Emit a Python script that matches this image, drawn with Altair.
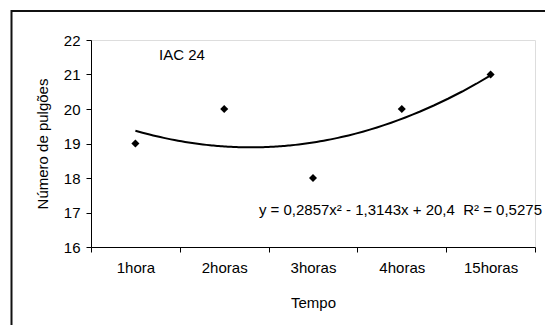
import altair as alt
import pandas as pd

# Aphid counts per exposure time (cultivar IAC 24)
tempos = ["1hora", "2horas", "3horas", "4horas", "15horas"]
indice = [1, 2, 3, 4, 5]
pulgoes = [19, 20, 18, 20, 21]

titulo_serie = "IAC 24"
equacao = "y = 0,2857x² - 1,3143x + 20,4\u00a0\u00a0R² = 0,5275"

FONT = "Liberation Sans"
FS = 15

df = pd.DataFrame({"tempo": tempos, "idx": indice, "pulgoes": pulgoes})

y_enc = alt.Y(
    "pulgoes:Q",
    scale=alt.Scale(domain=[16, 22], nice=False, zero=False),
    axis=alt.Axis(
        title="Número de pulgões",
        values=[16, 17, 18, 19, 20, 21, 22],
        tickCount=7,
        labelOverlap=False,
        grid=False,
        tickSize=5,
        labelPadding=6,
        titlePadding=13,
        domainColor="black",
        tickColor="black",
        labelColor="black",
        titleColor="black",
        labelFontSize=FS,
        titleFontSize=FS,
        titleFontWeight="normal",
        labelFont=FONT,
        titleFont=FONT,
    ),
)

pontos = alt.Chart(df).mark_point(
    shape="diamond", filled=True, color="black", size=65, opacity=1
).encode(
    x=alt.X(
        "tempo:N",
        sort=tempos,
        scale=alt.Scale(paddingInner=0, paddingOuter=0),
        axis=alt.Axis(
            title="Tempo",
            labelAngle=0,
            labelOverlap=False,
            tickBand="extent",
            tickSize=5,
            labelPadding=8,
            titlePadding=20,
            domainColor="black",
            tickColor="black",
            labelColor="black",
            titleColor="black",
            labelFontSize=FS,
            titleFontSize=FS,
            titleFontWeight="normal",
            labelFont=FONT,
            titleFont=FONT,
        ),
    ),
    y=y_enc,
)

# Second-order polynomial trendline fitted on the category index
tendencia = alt.Chart(df).transform_regression(
    "idx", "pulgoes", method="poly", order=2, extent=[1, 5]
).mark_line(color="black", strokeWidth=2).encode(
    x=alt.X("idx:Q", scale=alt.Scale(domain=[0.5, 5.5], nice=False, zero=False), axis=None),
    y=y_enc,
)

rotulo = alt.Chart(pd.DataFrame({"t": [titulo_serie]})).mark_text(
    font=FONT, fontSize=FS, color="black", align="center", baseline="middle"
).encode(x=alt.value(91), y=alt.value(15), text="t:N")

eq = alt.Chart(pd.DataFrame({"t": [equacao]})).mark_text(
    font=FONT, fontSize=FS, color="black", align="right", baseline="middle"
).encode(x=alt.value(451), y=alt.value(170), text="t:N")

# Outer frame (top and left edges)
borda_topo = alt.Chart(pd.DataFrame({"k": [0]})).mark_rule(color="#111", strokeWidth=2).encode(
    x=alt.value(-80), x2=alt.value(460), y=alt.value(-29)
)
borda_esq = alt.Chart(pd.DataFrame({"k": [0]})).mark_rule(color="#111", strokeWidth=2).encode(
    x=alt.value(-79.5), y=alt.value(-30), y2=alt.value(300)
)

chart = (
    alt.layer(pontos, tendencia, rotulo, eq, borda_topo, borda_esq)
    .resolve_scale(x="independent")
    .properties(
        width=444,
        height=207,
        padding={"left": 91, "top": 40, "right": 10, "bottom": 78},
        autosize=alt.AutoSizeParams(type="none"),
    )
    .configure_view(stroke=None)
    .configure(background="white")
)

chart.save("out.html", embed_options={"renderer": "svg", "actions": False})
